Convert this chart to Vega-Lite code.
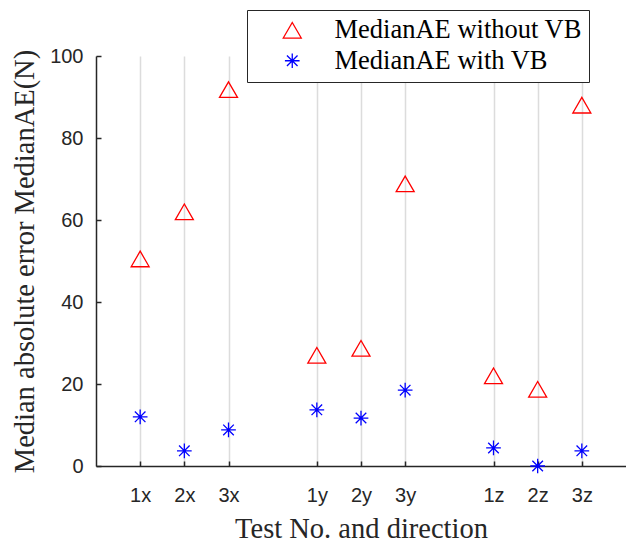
{
  "$schema": "https://vega.github.io/schema/vega-lite/v6.json",
  "width": 530,
  "height": 410,
  "autosize": {"type": "none"},
  "padding": {"left": 96, "top": 56, "right": 0, "bottom": 77},
  "background": "white",
  "config": {"view": {"stroke": null}},
  "data": {
    "values": [
      {"test": "1x", "pos": 1, "series": "MedianAE without VB", "value": 50.5},
      {"test": "2x", "pos": 2, "series": "MedianAE without VB", "value": 62},
      {"test": "3x", "pos": 3, "series": "MedianAE without VB", "value": 91.8},
      {"test": "1y", "pos": 5, "series": "MedianAE without VB", "value": 27},
      {"test": "2y", "pos": 6, "series": "MedianAE without VB", "value": 28.7},
      {"test": "3y", "pos": 7, "series": "MedianAE without VB", "value": 68.8},
      {"test": "1z", "pos": 9, "series": "MedianAE without VB", "value": 22},
      {"test": "2z", "pos": 10, "series": "MedianAE without VB", "value": 18.7},
      {"test": "3z", "pos": 11, "series": "MedianAE without VB", "value": 88},
      {"test": "1x", "pos": 1, "series": "MedianAE with VB", "value": 12},
      {"test": "2x", "pos": 2, "series": "MedianAE with VB", "value": 3.7},
      {"test": "3x", "pos": 3, "series": "MedianAE with VB", "value": 8.8},
      {"test": "1y", "pos": 5, "series": "MedianAE with VB", "value": 13.7},
      {"test": "2y", "pos": 6, "series": "MedianAE with VB", "value": 11.7},
      {"test": "3y", "pos": 7, "series": "MedianAE with VB", "value": 18.5},
      {"test": "1z", "pos": 9, "series": "MedianAE with VB", "value": 4.4},
      {"test": "2z", "pos": 10, "series": "MedianAE with VB", "value": 0},
      {"test": "3z", "pos": 11, "series": "MedianAE with VB", "value": 3.7}
    ]
  },
  "mark": {"type": "point", "filled": false, "opacity": 1, "clip": false},
  "encoding": {
    "x": {
      "field": "pos",
      "type": "quantitative",
      "scale": {"domain": [0, 12]},
      "axis": {
        "values": [1, 2, 3, 5, 6, 7, 9, 10, 11],
        "labelExpr": "['','1x','2x','3x','','1y','2y','3y','','1z','2z','3z'][datum.value]",
        "grid": true,
        "gridColor": "#dcdcdc",
        "gridWidth": 1.5,
        "domainColor": "#262626",
        "domainWidth": 1.5,
        "tickColor": "#262626",
        "tickWidth": 1.5,
        "tickSize": -5,
        "labelPadding": 24,
        "labelFont": "Liberation Sans",
        "labelFontSize": 20,
        "labelColor": "#262626",
        "title": "Test No. and direction",
        "titleFont": "Liberation Serif",
        "titleFontSize": 28.5,
        "titleFontWeight": "normal",
        "titleColor": "#262626",
        "titlePadding": 9
      }
    },
    "y": {
      "field": "value",
      "type": "quantitative",
      "scale": {"domain": [0, 100]},
      "axis": {
        "values": [0, 20, 40, 60, 80, 100],
        "grid": false,
        "domainColor": "#262626",
        "domainWidth": 1.5,
        "tickColor": "#262626",
        "tickWidth": 1.5,
        "tickSize": -5,
        "labelPadding": 18,
        "labelFont": "Liberation Sans",
        "labelFontSize": 20,
        "labelColor": "#262626",
        "title": "Median absolute error MedianAE(N)",
        "titleFont": "Liberation Serif",
        "titleFontSize": 28.5,
        "titleFontWeight": "normal",
        "titleColor": "#262626",
        "titlePadding": 10
      }
    },
    "shape": {
      "field": "series",
      "type": "nominal",
      "scale": {
        "domain": ["MedianAE without VB", "MedianAE with VB"],
        "range": ["triangle-up", "M-1,0L1,0M0,-1L0,1M-0.72,-0.72L0.72,0.72M-0.72,0.72L0.72,-0.72"]
      },
      "legend": {
        "title": null,
        "orient": "none",
        "legendX": 151,
        "legendY": -46,
        "padding": 7,
        "symbolOffset": 25,
        "labelOffset": 29,
        "rowPadding": 3.5,
        "strokeColor": "#262626",
        "fillColor": "white",
        "symbolStrokeWidth": 1.3,
        "symbolSize": 280,
        "labelFont": "Liberation Serif",
        "labelFontSize": 26.5,
        "labelColor": "black",
        "labelLimit": 400
      }
    },
    "color": {
      "field": "series",
      "type": "nominal",
      "scale": {"domain": ["MedianAE without VB", "MedianAE with VB"], "range": ["#ff0000", "#0000ff"]},
      "legend": {
        "title": null,
        "orient": "none",
        "legendX": 151,
        "legendY": -46,
        "padding": 7,
        "symbolOffset": 25,
        "labelOffset": 29,
        "rowPadding": 3.5,
        "strokeColor": "#262626",
        "fillColor": "white",
        "symbolStrokeWidth": 1.3,
        "symbolSize": 280,
        "labelFont": "Liberation Serif",
        "labelFontSize": 26.5,
        "labelColor": "black",
        "labelLimit": 400
      }
    },
    "size": {
      "field": "series",
      "type": "nominal",
      "scale": {"domain": ["MedianAE without VB", "MedianAE with VB"], "range": [324, 216]},
      "legend": null
    },
    "strokeWidth": {"value": 1.3}
  }
}
